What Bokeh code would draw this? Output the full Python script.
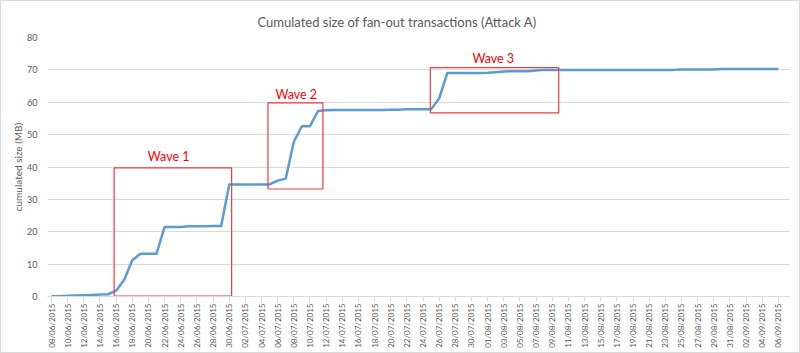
import math
import pandas as pd
from bokeh.plotting import figure
from bokeh.models import FixedTicker, Range1d, ColumnDataSource
from bokeh.core.properties import value
from bokeh.embed import file_html
from bokeh.resources import INLINE

# ---- data ----
dates = [d.strftime("%d/%m/%Y") for d in pd.date_range("2015-06-08", "2015-09-06", freq="D")]
cum_size_mb = [
    0.1, 0.1, 0.2, 0.3, 0.4, 0.5, 0.6, 0.7, 1.8, 5.2,      # 08/06 - 17/06
    11.2, 13.2, 13.2, 13.2, 21.5, 21.5, 21.5, 21.7, 21.7, 21.7,  # 18/06 - 27/06
    21.8, 21.8, 34.6, 34.6, 34.6, 34.6, 34.6, 34.6, 35.8, 36.4,  # 28/06 - 07/07
    47.8, 52.6, 52.6, 57.3, 57.5, 57.6, 57.6, 57.6, 57.6, 57.6,  # 08/07 - 17/07
    57.6, 57.6, 57.7, 57.7, 57.8, 57.8, 57.8, 57.8, 61.2, 69.0,  # 18/07 - 27/07
    69.0, 69.0, 69.0, 69.0, 69.1, 69.3, 69.5, 69.6, 69.6, 69.6,  # 28/07 - 06/08
    69.8, 70.0, 70.0, 70.0, 70.0, 70.0, 70.0, 70.0, 70.0, 70.0,  # 07/08 - 16/08
    70.0, 70.0, 70.0, 70.0, 70.0, 70.0, 70.0, 70.0, 70.1, 70.1,  # 17/08 - 26/08
    70.1, 70.1, 70.1, 70.3, 70.3, 70.3, 70.3, 70.3, 70.3, 70.3,  # 27/08 - 05/09
    70.3,                                                        # 06/09
]
day_index = list(range(len(dates)))
y_ticks = [0, 10, 20, 30, 40, 50, 60, 70, 80]

# wave annotation boxes (day index / MB)
wave_names = ["Wave 1", "Wave 2", "Wave 3"]
wave_left = [7.75, 26.8, 46.9]
wave_right = [22.3, 33.6, 62.8]
wave_bottom = [0.12, 33.2, 56.7]
wave_top = [39.7, 59.8, 70.7]
wave_label_x = [14.5, 30.3, 54.7]
wave_label_y = [43.2, 62.4, 73.4]

TEXT = "#595959"
GRID = "#D9D9D9"
FONT = "Lato"

p = figure(width=800, height=353, output_backend="svg", toolbar_location=None,
           x_range=Range1d(-0.5, 91.5), y_range=Range1d(0, 80),
           title="Cumulated size of fan-out transactions (Attack A)",
           min_border_left=46, min_border_right=11, min_border_top=36, min_border_bottom=58)
p.styles = {"border": "1px solid #D9D9D9", "box-sizing": "border-box"}

p.title.align = "left"
p.title.offset = 210
p.title.text_font = FONT
p.title.text_font_style = "normal"
p.title.text_font_size = "13px"
p.title.text_color = TEXT
p.title.standoff = 16

p.outline_line_color = None
p.xgrid.grid_line_color = None
p.ygrid.grid_line_color = GRID
p.ygrid.ticker = FixedTicker(ticks=y_ticks)

# x axis
p.xaxis.ticker = FixedTicker(ticks=day_index[::2])
p.xaxis.major_label_overrides = {i: dates[i] for i in day_index[::2]}
p.xaxis.major_label_orientation = math.pi / 2
p.xaxis.major_label_text_font = FONT
p.xaxis.major_label_text_font_size = "8px"
p.xaxis.major_label_text_color = TEXT
p.xaxis.axis_line_color = GRID
p.xaxis.major_tick_line_color = GRID
p.xaxis.major_tick_out = 5
p.xaxis.major_tick_in = 0
p.xaxis.minor_tick_line_color = None
p.xaxis.major_label_standoff = 2

# y axis
p.yaxis.ticker = FixedTicker(ticks=y_ticks)
p.yaxis.axis_label = "cumulated size (MB)"
p.yaxis.axis_label_text_font = FONT
p.yaxis.axis_label_text_font_style = "normal"
p.yaxis.axis_label_text_font_size = "10px"
p.yaxis.axis_label_text_color = TEXT
p.yaxis.axis_label_standoff = 0
p.yaxis.major_label_text_font = FONT
p.yaxis.major_label_text_font_size = "9px"
p.yaxis.major_label_text_color = TEXT
p.yaxis.axis_line_color = None
p.yaxis.major_tick_line_color = None
p.yaxis.major_tick_out = 0
p.yaxis.major_tick_in = 0
p.yaxis.minor_tick_line_color = None
p.yaxis.major_label_standoff = 10

src = ColumnDataSource(dict(x=day_index, y=cum_size_mb))
p.line("x", "y", source=src, line_color="#5B9BD5", line_width=2.5, line_join="round")

box_src = ColumnDataSource(dict(left=wave_left, right=wave_right, bottom=wave_bottom, top=wave_top))
p.quad(left="left", right="right", bottom="bottom", top="top", source=box_src,
       fill_color=None, line_color="#EE3B40", line_width=1.2)

lab_src = ColumnDataSource(dict(x=wave_label_x, y=wave_label_y, t=wave_names))
p.text(x="x", y="y", text="t", source=lab_src, text_color="#FF0000",
       text_font=value(FONT), text_font_size="12.5px", text_align="center",
       text_baseline="middle")

open("out.html", "w").write(file_html(p, INLINE))
